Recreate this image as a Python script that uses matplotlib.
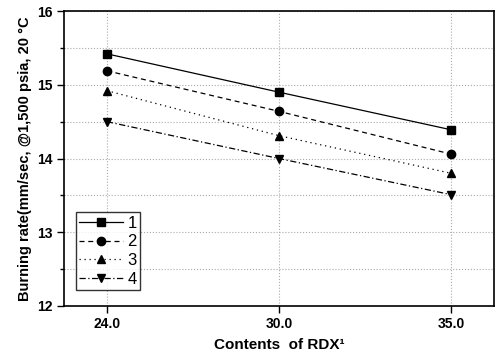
import numpy as np
import matplotlib
matplotlib.use("Agg")
import matplotlib.pyplot as plt
from matplotlib.ticker import MultipleLocator

plt.rcParams['font.family'] = ['Liberation Sans', 'DejaVu Sans']

# data
categories = ["24.0", "30.0", "35.0"]
labels = ["1", "2", "3", "4"]
rate_1 = [15.42, 14.90, 14.39]
rate_2 = [15.19, 14.64, 14.06]
rate_3 = [14.92, 14.31, 13.80]
rate_4 = [14.50, 14.00, 13.51]

series = [rate_1, rate_2, rate_3, rate_4]
markers = ["s", "o", "^", "v"]
styles = ["-", (0, (4, 3)), (0, (1, 3)), (0, (5, 2, 1, 2))]

fig = plt.figure(figsize=(4.95, 3.57), dpi=100)
ax = fig.add_axes([0.129, 0.143, 0.869, 0.826])

x = np.arange(len(categories))
for vals, lab, m, ls in zip(series, labels, markers, styles):
    ax.plot(x, vals, color="black", linestyle=ls, linewidth=0.9,
            marker=m, markersize=6, label=lab)

ax.set_xlim(-0.25, 2.25)
ax.set_ylim(12, 16)
ax.set_xticks(x)
ax.set_xticklabels(categories, fontweight="bold", fontsize=10)
ax.yaxis.set_major_locator(MultipleLocator(1))
ax.yaxis.set_minor_locator(MultipleLocator(0.5))
for t in ax.get_yticklabels():
    t.set_fontweight("bold")
    t.set_fontsize(10)
ax.tick_params(axis="both", which="major", direction="out", length=5, width=1, pad=3)
ax.tick_params(axis="y", which="minor", direction="out", length=3, width=1)

ax.grid(True, which="major", axis="x", linestyle=":", color="#aaaaaa", linewidth=0.8)
ax.grid(True, which="both", axis="y", linestyle=":", color="#aaaaaa", linewidth=0.8)
ax.set_axisbelow(True)

for sp in ax.spines.values():
    sp.set_linewidth(1.2)

ax.set_xlabel("Contents  of RDX¹", fontweight="bold", fontsize=11, labelpad=5)
ax.set_ylabel("Burning rate(mm/sec, @1,500 psia, 20 °C", fontweight="bold", fontsize=10.5, labelpad=4)

leg = ax.legend(loc="lower left", bbox_to_anchor=(0.028, 0.054), borderaxespad=0,
                fontsize=12, frameon=True, fancybox=False, edgecolor="black",
                handlelength=2.6, borderpad=0.2, labelspacing=0.22, handletextpad=0.3)
leg.get_frame().set_linewidth(1.0)

fig.savefig("out.png", dpi=100)
